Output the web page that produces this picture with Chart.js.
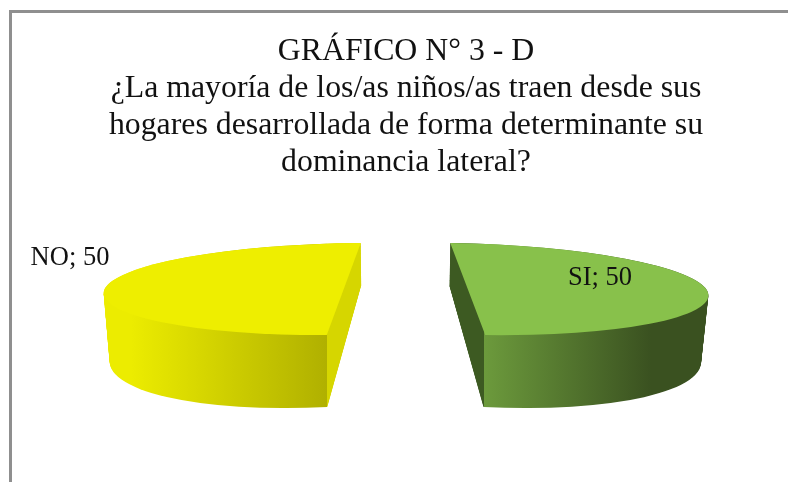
<!DOCTYPE html>
<html><head><meta charset="utf-8">
<style>html,body{margin:0;padding:0;background:#fff}canvas{display:block}</style>
<script src="https://cdn.jsdelivr.net/npm/chart.js@4/dist/chart.umd.min.js"></script>
</head><body><canvas id="c" width="788" height="482"></canvas>
<script>
const titleLines = ["GRÁFICO N° 3 - D","¿La mayoría de los/as niños/as traen desde sus","hogares desarrollada de forma determinante su","dominancia lateral?"];
const categories = ["SI","NO"];
const values = [50,50];
const topColors = ["#88c14b","#eeee00"];

// Projection of each exploded slice: axis vectors of the top and bottom faces (px per radius),
// and the centre shift of those faces from the pie centre.
const projection = [
  {top:{xx:240,xy:3,yx:17.5,yy:46}, bottom:{xx:234,xy:11,yx:17,yy:60.5}, topShift:[61.75,0], bottomShift:[60.5,57.5],
   stops:[[0,"#3d5a22"],[0.133,"#3d5a22"],[0.133,"#6c9a3c"],[0.78,"#3a5120"],[1,"#3a5120"]], range:[450,708]},
  {top:{xx:239.5,xy:-1,yx:-17,yy:46}, bottom:{xx:234,xy:-11,yx:-17,yy:61}, topShift:[-62.25,0], bottomShift:[-61.75,57],
   stops:[[0,"#ecec00"],[0.1,"#ecec00"],[0.864,"#b0b000"],[0.864,"#d6d600"],[1,"#d6d600"]], range:[105,362]}
];
const labelShift = [[194,-11],[-336,-31]];
const LAYERS = 90;

const off = document.createElement('canvas');
off.width = 788; off.height = 482;

function applyMatrix(ctx, el, m, sx, sy){
  const R = el.outerRadius;
  ctx.setTransform(m.xx/R, m.xy/R, m.yx/R, m.yy/R, el.x+sx, el.y+sy);
  ctx.translate(-el.x, -el.y);
}
const lerp = (a,b,t)=>a+(b-a)*t;

const pie3d = {
  id:'pie3d',
  beforeDraw(chart){
    const c = chart.ctx;
    c.save();
    c.fillStyle = '#ffffff'; c.fillRect(0,0,788,482);
    c.fillStyle = '#8f8f8f';
    c.fillRect(9,10,779,3);
    c.fillRect(9,10,3,472);
    c.restore();
  },
  beforeDatasetDraw(chart, args){
    const arcs = chart.getDatasetMeta(args.index).data;
    const ctx = chart.ctx;
    const o = off.getContext('2d');
    arcs.forEach((el,i)=>{
      const p = projection[i];
      o.setTransform(1,0,0,1,0,0);
      o.globalCompositeOperation='source-over';
      o.clearRect(0,0,788,482);
      for(let k=LAYERS;k>=0;k--){
        const t=k/LAYERS;
        const m={xx:lerp(p.top.xx,p.bottom.xx,t),xy:lerp(p.top.xy,p.bottom.xy,t),
                 yx:lerp(p.top.yx,p.bottom.yx,t),yy:lerp(p.top.yy,p.bottom.yy,t)};
        o.save();
        applyMatrix(o,el,m,lerp(p.topShift[0],p.bottomShift[0],t),lerp(p.topShift[1],p.bottomShift[1],t));
        el.draw(o);
        o.restore();
      }
      o.setTransform(1,0,0,1,0,0);
      o.globalCompositeOperation='source-in';
      const g=o.createLinearGradient(p.range[0],0,p.range[1],0);
      p.stops.forEach(s=>g.addColorStop(s[0],s[1]));
      o.fillStyle=g;
      o.fillRect(0,0,788,482);
      ctx.save();
      ctx.setTransform(1,0,0,1,0,0);
      ctx.drawImage(off,0,0);
      ctx.restore();
      ctx.save();
      applyMatrix(ctx,el,p.top,p.topShift[0],p.topShift[1]);
      el.draw(ctx);
      ctx.restore();
    });
    return false;
  },
  afterDatasetsDraw(chart){
    const arcs = chart.getDatasetMeta(0).data;
    const ctx = chart.ctx;
    ctx.save();
    ctx.font='26.5px "Liberation Serif"';
    ctx.fillStyle='#111';
    ctx.textAlign='center'; ctx.textBaseline='middle';
    arcs.forEach((el,i)=>{
      ctx.fillText(categories[i]+'; '+values[i], el.x+labelShift[i][0], el.y+labelShift[i][1]);
    });
    ctx.restore();
  }
};

new Chart(document.getElementById('c'),{
  type:'pie',
  data:{labels:categories,datasets:[{data:values,backgroundColor:topColors,borderWidth:0}]},
  plugins:[pie3d],
  options:{
    responsive:false,animation:false,events:[],
    layout:{padding:{left:24,right:0,top:0,bottom:87}},
    plugins:{
      legend:{display:false},tooltip:{enabled:false},
      title:{display:true,text:titleLines,color:'#111',
        font:{family:'"Liberation Serif"',size:31.8,weight:'normal',lineHeight:1.165},
        padding:{top:33,bottom:2}}
    }
  }
});
</script></body></html>
